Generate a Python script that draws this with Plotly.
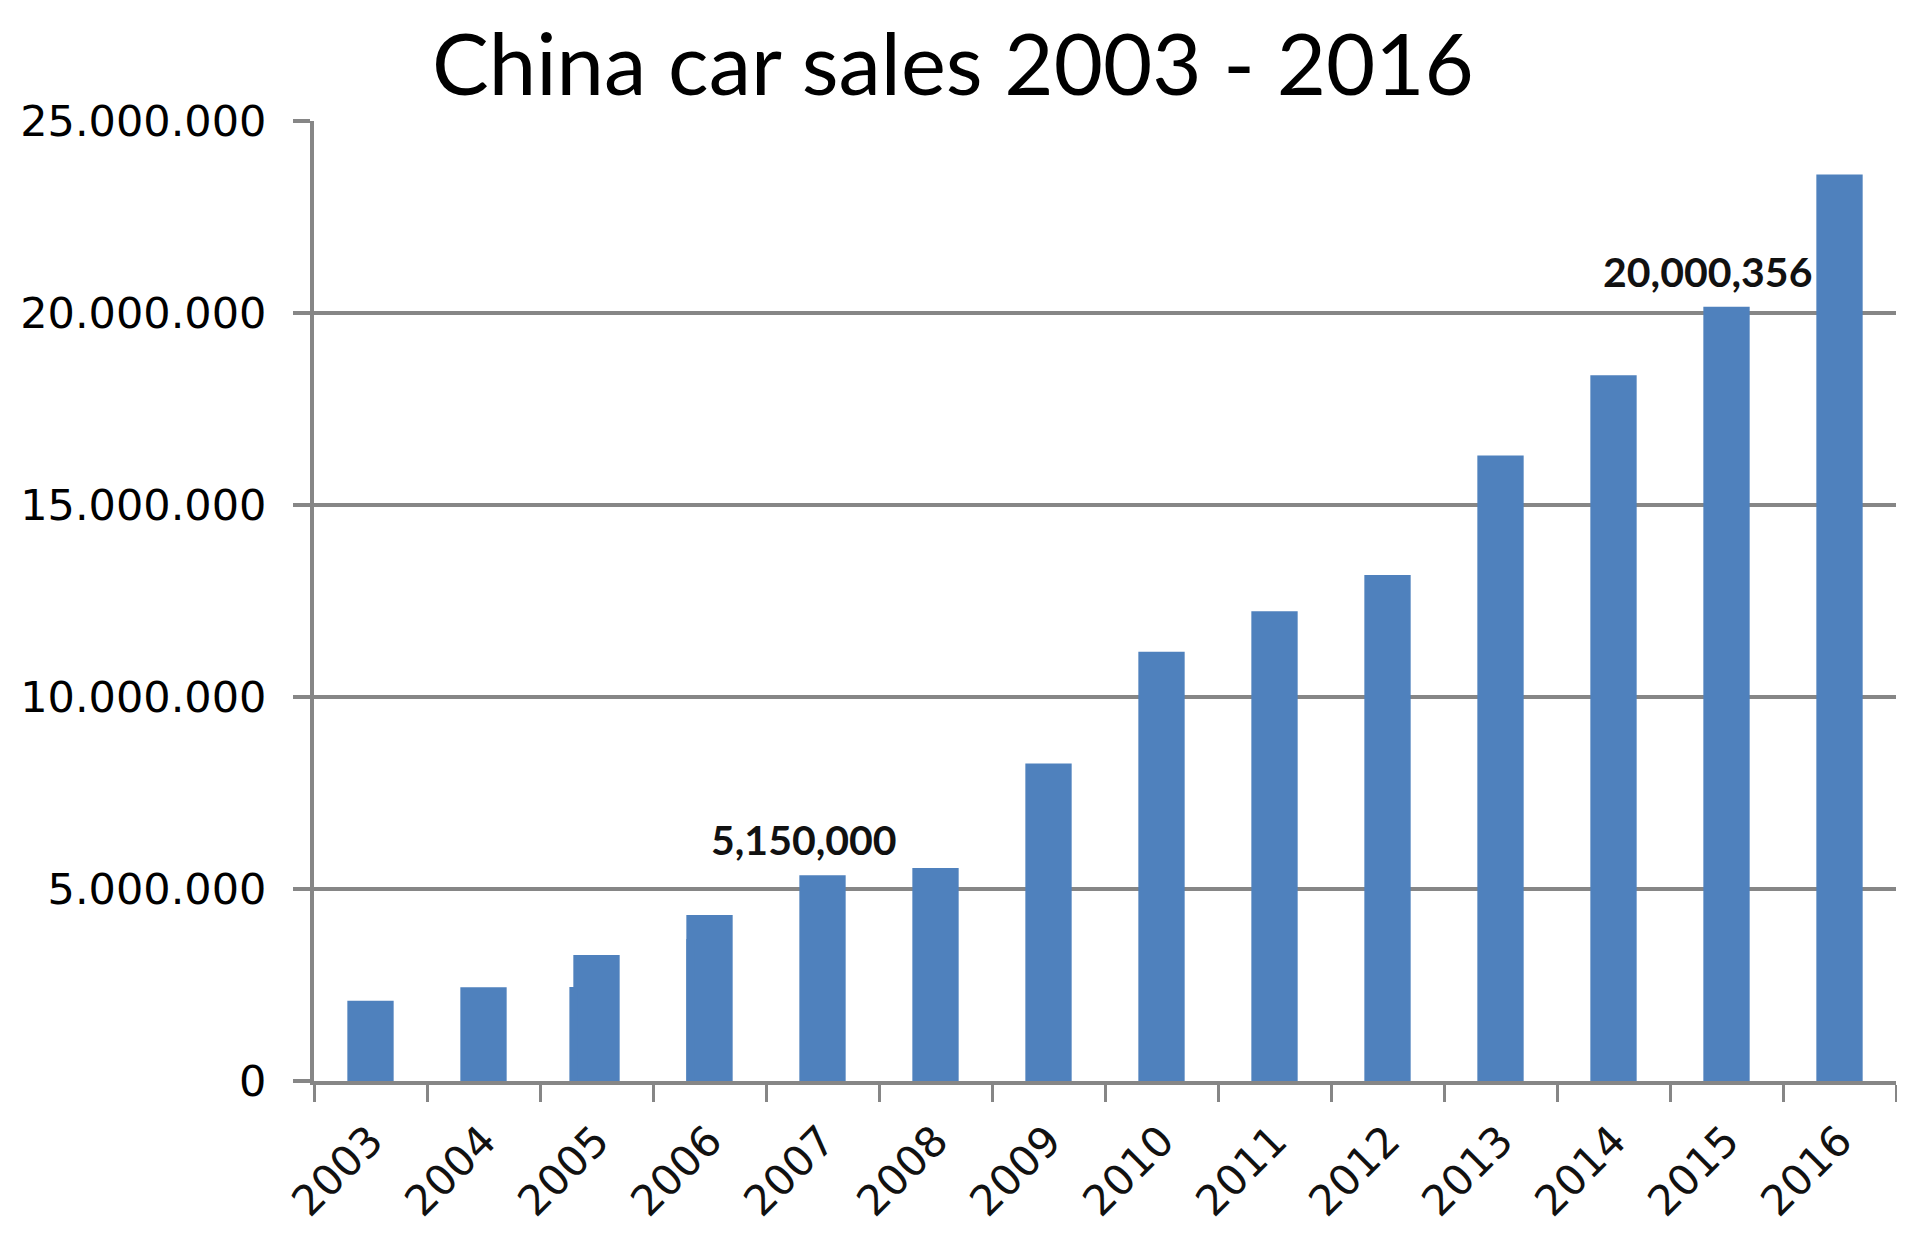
import plotly.graph_objects as go

# China car sales per year
years = ["2003", "2004", "2005", "2006", "2007", "2008", "2009",
         "2010", "2011", "2012", "2013", "2014", "2015", "2016"]
sales = [2090000, 2440000, 3280000, 4320000, 5360000, 5550000, 8270000,
         11180000, 12230000, 13180000, 16290000, 18380000, 20160000, 23610000]

# leftover slivers behind the 2005 / 2006 bars in the original picture
old_years = ["2005", "2006"]
old_sales = [2450000, 3700000]

label_years = ["2007", "2015"]
label_texts = ["5,150,000", "20,000,356"]

y_ticks = [0, 5000000, 10000000, 15000000, 20000000, 25000000]

TITLE = "China car sales 2003 - 2016"
BLUE = "#4F81BD"
GRID = "#868686"

W, H = 1905, 1237
M = {"l": 301, "r": 17, "t": 113, "b": 164}

fig = go.Figure()

fig.add_trace(
    go.Bar(
        x=years,
        y=sales,
        width=0.41,
        marker={"color": BLUE, "line": {"width": 0}},
        showlegend=False,
    )
)
fig.add_trace(
    go.Bar(
        x=old_years,
        y=old_sales,
        width=0.07,
        offset=[-0.24, -0.205],
        marker={"color": BLUE, "line": {"width": 0}},
        hoverinfo="skip",
        showlegend=False,
    )
)

for yr, txt in zip(label_years, label_texts):
    i = years.index(yr)
    fig.add_annotation(
        x=i,
        y=sales[i],
        text=f"<b>{txt}</b>",
        showarrow=False,
        xanchor="center",
        yanchor="bottom",
        xshift=-19,
        yshift=9,
        font={"family": "Lato", "size": 41, "color": "#111111"},
    )

# title as a paper annotation, centred on the page
plot_w = W - M["l"] - M["r"]
plot_h = H - M["t"] - M["b"]
fig.add_annotation(
    xref="paper",
    yref="paper",
    x=(W / 2 - 10 - M["l"]) / plot_w,
    y=1 + (M["t"] - 54) / plot_h,
    text=TITLE,
    showarrow=False,
    xanchor="center",
    yanchor="middle",
    font={"family": "Lato", "size": 85, "color": "#000000"},
)

fig.update_layout(
    width=W,
    height=H,
    barmode="overlay",
    separators=",.",
    paper_bgcolor="white",
    plot_bgcolor="white",
    margin=M,
    showlegend=False,
)

fig.update_xaxes(
    type="category",
    categoryorder="array",
    categoryarray=years,
    range=[-0.5, len(years) - 0.5],
    tickson="boundaries",
    ticks="outside",
    ticklen=17,
    tickwidth=3,
    tickcolor=GRID,
    showline=True,
    linecolor=GRID,
    linewidth=4,
    showgrid=False,
    tickangle=-45,
    ticklabelstandoff=14,
    tickfont={"family": "DejaVu Sans", "size": 42, "color": "#111111"},
)
fig.update_yaxes(
    range=[0, 25000000],
    tickvals=y_ticks,
    tickformat=",d",
    ticks="outside",
    ticklen=17,
    tickwidth=4,
    tickcolor=GRID,
    showline=True,
    linecolor=GRID,
    linewidth=4,
    showgrid=True,
    gridcolor=GRID,
    gridwidth=4,
    zeroline=False,
    ticklabelstandoff=18,
    tickfont={"family": "DejaVu Sans", "size": 43, "color": "#000000"},
)

fig.write_html("out.html")
